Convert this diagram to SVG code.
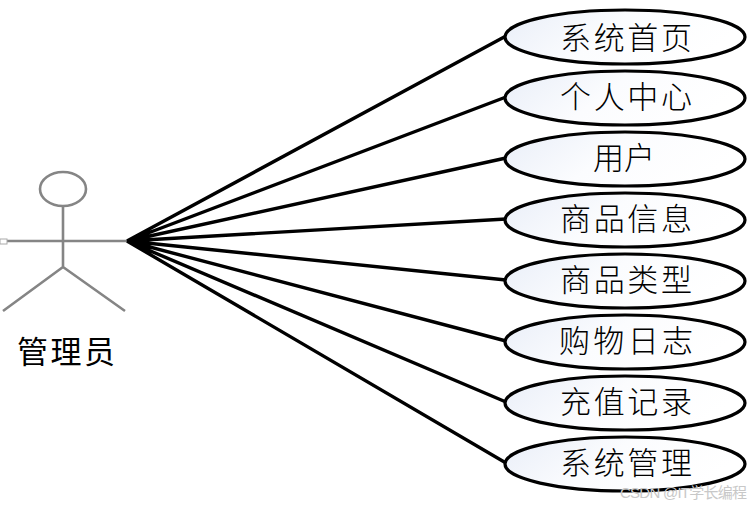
<svg xmlns="http://www.w3.org/2000/svg" width="751" height="507" viewBox="0 0 751 507">
<defs>
<linearGradient id="g" x1="0" y1="0" x2="1" y2="0.3"><stop offset="0" stop-color="#e9eef8"/><stop offset="0.5" stop-color="#fbfcfe"/><stop offset="1" stop-color="#ffffff"/></linearGradient>
</defs>
<style>
.a{fill:none;stroke:#858585;stroke-width:2.6}
.c{fill:none;stroke:#000;stroke-width:3.4}
.e{fill:url(#g);stroke:#000;stroke-width:3.2}
.t{font-family:"Noto Sans CJK SC","Noto Sans CJK JP",sans-serif;font-size:31px;text-anchor:middle;fill:#000;font-weight:300}
.w{font-family:"Liberation Sans","Noto Sans CJK SC",sans-serif;font-size:15px;fill:#c8c8c8;text-anchor:end}
</style>
<rect width="751" height="507" fill="#fff"/>
<g id="actor">
<ellipse class="a" cx="63" cy="189" rx="23" ry="17"/>
<path class="a" d="M63 207V267M4 241H128M63 267L3 311M63 267L125 311"/>
<rect x="0" y="239" width="7" height="5" fill="#fff" stroke="#aaa" stroke-width="1"/>
<text class="t" x="66" y="363" textLength="98" style="font-weight:400">管理员</text>
</g>
<g id="connectors">
<path class="c" d="M127 241L506 36M127 241L506 97M127 241L506 158M127 241L506 219M127 241L506 280M127 241L506 341M127 241L506 402M127 241L506 463"/>
</g>
<g id="n1"><ellipse class="e" cx="625" cy="37" rx="120" ry="27"/><text class="t" x="626" y="49" textLength="132">系统首页</text></g>
<g id="n2"><ellipse class="e" cx="625" cy="98" rx="120" ry="27"/><text class="t" x="626" y="108" textLength="132">个人中心</text></g>
<g id="n3"><ellipse class="e" cx="625" cy="159" rx="120" ry="27"/><text class="t" x="624" y="169">用户</text></g>
<g id="n4"><ellipse class="e" cx="625" cy="220" rx="120" ry="27"/><text class="t" x="626" y="230" textLength="132">商品信息</text></g>
<g id="n5"><ellipse class="e" cx="625" cy="281" rx="120" ry="27"/><text class="t" x="626" y="291" textLength="132">商品类型</text></g>
<g id="n6"><ellipse class="e" cx="625" cy="342" rx="120" ry="27"/><text class="t" x="626" y="352" textLength="134">购物日志</text></g>
<g id="n7"><ellipse class="e" cx="625" cy="403" rx="120" ry="27"/><text class="t" x="626" y="413" textLength="132">充值记录</text></g>
<g id="n8"><ellipse class="e" cx="625" cy="464" rx="120" ry="27"/><text class="t" x="626" y="474" textLength="132">系统管理</text></g>
<text class="w" x="747" y="498" textLength="127">CSDN @IT学长编程</text>
</svg>
